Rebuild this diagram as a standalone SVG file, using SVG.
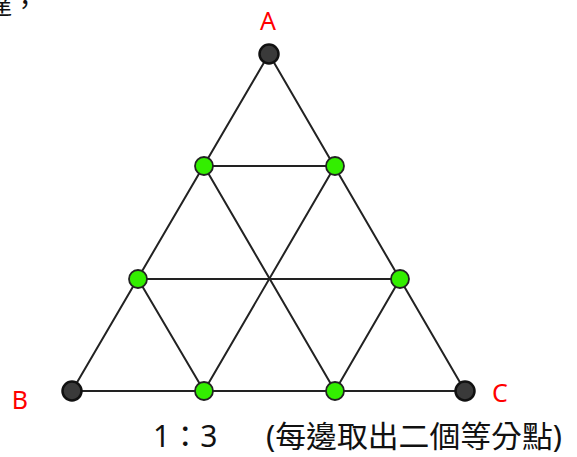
<svg xmlns="http://www.w3.org/2000/svg" width="577" height="457" viewBox="0 0 577 457">
<style>
.edge{stroke:#222;stroke-width:2;fill:none;stroke-linecap:round}
.end{fill:#3a3a3a;stroke:#111;stroke-width:2.5}
.div{fill:#33ee00;stroke:#222;stroke-width:1.8}
.lab{font-family:"Noto Sans","Liberation Sans",sans-serif;font-size:25px;fill:#ff0000}
.cap{font-family:"Noto Sans","Noto Sans CJK TC",sans-serif;fill:#111}
</style>
<rect width="577" height="457" fill="#ffffff"/>
<text class="cap" x="-14" y="14" font-size="26" font-family="Noto Sans CJK TC, sans-serif">達，</text>
<g id="connectors">
<line class="edge" x1="269" y1="54" x2="72" y2="391"/>
<line class="edge" x1="269" y1="54" x2="465" y2="391"/>
<line class="edge" x1="72" y1="391" x2="465" y2="391"/>
<line class="edge" x1="204" y1="166" x2="335" y2="166"/>
<line class="edge" x1="138" y1="279" x2="400" y2="279"/>
<line class="edge" x1="138" y1="279" x2="204" y2="391"/>
<line class="edge" x1="204" y1="166" x2="335" y2="391"/>
<line class="edge" x1="335" y1="166" x2="204" y2="391"/>
<line class="edge" x1="400" y1="279" x2="335" y2="391"/>
</g>
<g id="A"><circle class="end" cx="269" cy="54" r="9.5"/><text class="lab" x="268" y="30" text-anchor="middle">A</text></g>
<g id="B"><circle class="end" cx="72" cy="391" r="9.5"/><text class="lab" x="20" y="409" text-anchor="middle">B</text></g>
<g id="C"><circle class="end" cx="465" cy="391" r="9.5"/><text class="lab" x="500" y="402" text-anchor="middle">C</text></g>
<g id="P1"><circle class="div" cx="204" cy="166" r="9"/></g>
<g id="P2"><circle class="div" cx="335" cy="166" r="9"/></g>
<g id="P3"><circle class="div" cx="138" cy="279" r="9"/></g>
<g id="P4"><circle class="div" cx="400" cy="279" r="9"/></g>
<g id="P5"><circle class="div" cx="204" cy="391" r="9"/></g>
<g id="P6"><circle class="div" cx="335" cy="391" r="9"/></g>
<text class="cap" x="153" y="447" font-size="30">1：3</text>
<text class="cap" x="266" y="447" font-size="30" textLength="296" lengthAdjust="spacingAndGlyphs">(每邊取出二個等分點)</text>
</svg>
